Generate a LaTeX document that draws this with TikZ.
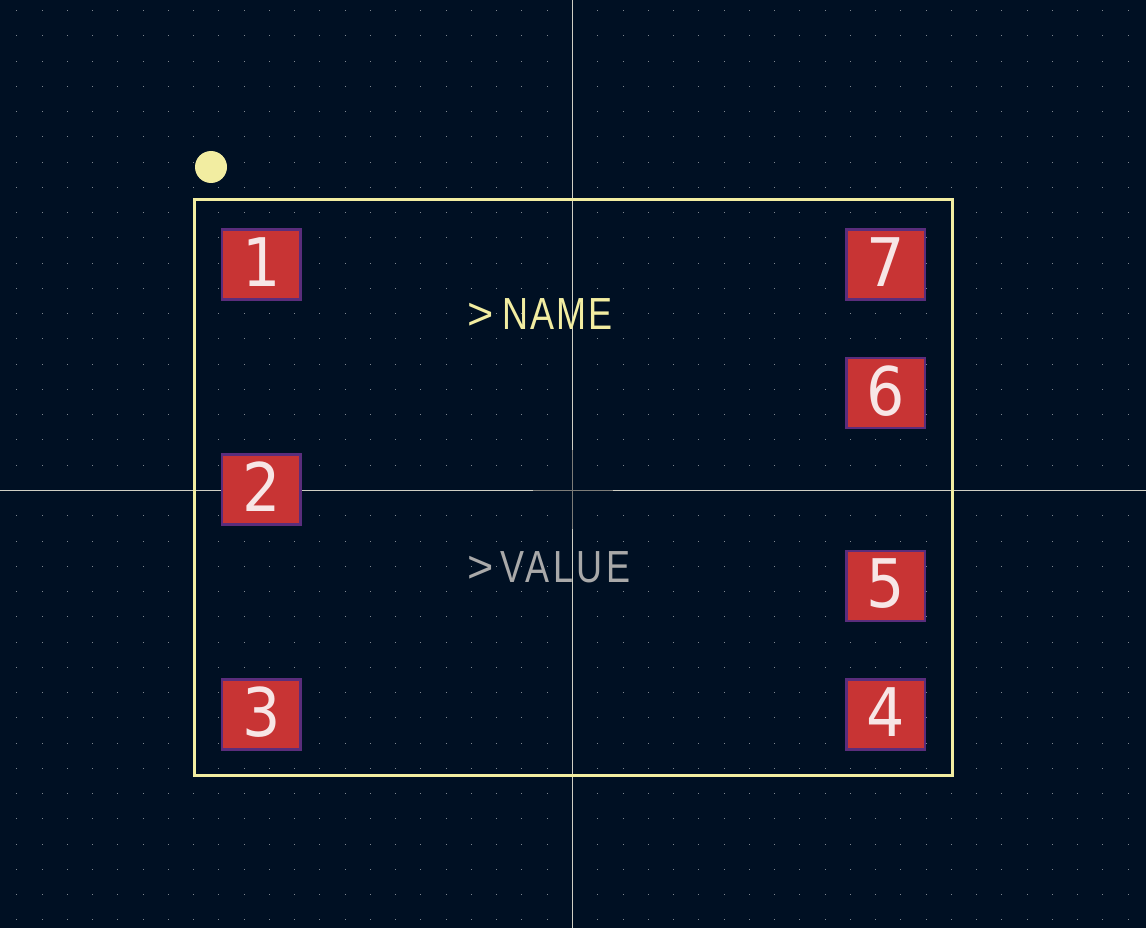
\documentclass[tikz,border=0pt]{standalone}
\usepackage{fontspec}
\setmainfont{DejaVu Sans}
\newfontfamily\padfont[FakeStretch=0.9]{DejaVu Sans}
\newfontfamily\chevfont{Liberation Sans}
\newfontfamily\namefont[FakeStretch=0.8,LetterSpace=4.5]{Liberation Sans}
\newfontfamily\valuefont[FakeStretch=0.8,LetterSpace=8]{Liberation Sans}
\usetikzlibrary{positioning}
\definecolor{boardbg}{HTML}{001023}
\definecolor{griddot}{HTML}{7F8790}
\definecolor{axisline}{HTML}{CFCFC4}
\definecolor{axisdim}{HTML}{7C7C78}
\definecolor{silk}{HTML}{F2EDA1}
\definecolor{fabtext}{HTML}{A9A9A9}
\definecolor{padred}{HTML}{C83434}
\definecolor{padedge}{HTML}{5A2D7C}
\definecolor{padtext}{HTML}{F7E6E6}
\tikzset{
  padbox/.style={draw=padedge,fill=padred,line width=2.4pt,minimum width=78.4pt,minimum height=70pt,
    inner sep=0pt,text=padtext,font=\padfont\fontsize{67}{67}\selectfont},
  reftext/.style={anchor=base west,inner sep=0pt,font=\fontsize{45}{45}\selectfont},
}

\begin{document}
\begin{tikzpicture}[x=1pt,y=-1pt]
  \useasboundingbox[fill=boardbg] (0,0) rectangle (1146,928);
  % Grid
  \foreach \i in {-22,...,22}
    \foreach \j in {-19,...,17}
      \fill[griddot] ({572.5+25.26*\i-0.5},{490.5+25.26*\j-0.5}) rectangle +(1,1);
  % Axes
  \coordinate (west) at (0,490.5);
  \coordinate (east) at (1146,490.5);
  \coordinate (north) at (572.5,0);
  \coordinate (south) at (572.5,928);
  \draw[axisline,line width=1pt] (west) -- (east);
  \draw[axisline,line width=1pt] (north) -- (south);
  \draw[axisdim,line width=1pt] (533,490.5) -- (613,490.5);
  \draw[axisdim,line width=1pt] (572.5,450) -- (572.5,529);
  % Outline
  \node[circle,fill=silk,minimum size=32pt,inner sep=0pt] (dot) at (211,167) {};
  \draw[silk,line width=3pt] (194.5,199.5) rectangle (952.5,775);
  % Pads
  \foreach \name/\xpad/\ypad in {1/261.4/264.5,2/261.4/489.4,3/261.4/714.5,4/885.6/714.5,5/885.6/585.7,6/885.6/393,7/885.6/264.5}
    \node[padbox] (pad\name) at (\xpad,\ypad) {\raisebox{5pt}{\name}};
  % Texts
  \node[reftext,text=silk] (name) at (467,329) {{\chevfont>}\hspace{9pt}{\namefont NAME}};
  \node[reftext,text=fabtext] (value) at (467,582) {{\chevfont>}\hspace{7pt}{\valuefont VALUE}};
\end{tikzpicture}
\end{document}
